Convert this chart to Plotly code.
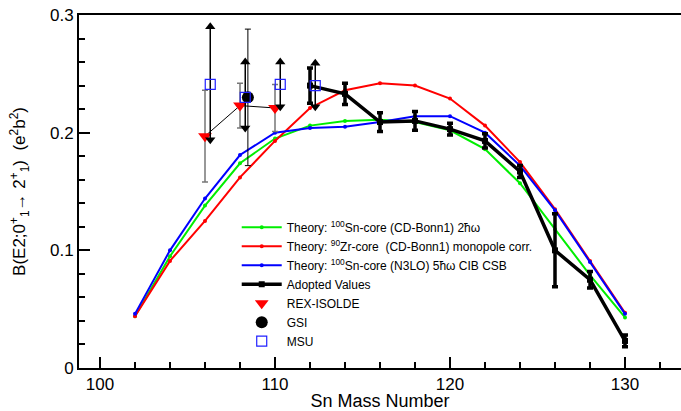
import plotly.graph_objects as go

A_theory = [102, 104, 106, 108, 110, 112, 114, 116, 118, 120, 122, 124, 126, 128, 130]
green_vals = [0.044, 0.095, 0.138, 0.174, 0.195, 0.206, 0.210, 0.211, 0.209, 0.202, 0.186, 0.157, 0.118, 0.079, 0.043]
red_vals = [0.044, 0.091, 0.125, 0.162, 0.193, 0.221, 0.236, 0.242, 0.240, 0.229, 0.206, 0.175, 0.135, 0.091, 0.047]
blue_vals = [0.046, 0.100, 0.144, 0.181, 0.200, 0.204, 0.205, 0.209, 0.214, 0.214, 0.200, 0.172, 0.134, 0.090, 0.046]

A_adopted = [112, 114, 116, 118, 120, 122, 124, 126, 128, 130]
adopted_vals = [0.240, 0.233, 0.209, 0.210, 0.203, 0.193, 0.167, 0.100, 0.075, 0.023]
adopted_err = [0.015, 0.009, 0.008, 0.008, 0.005, 0.006, 0.005, 0.031, 0.007, 0.005]

A_rex = [106.0, 108.0, 110.0]
rex_vals = [0.197, 0.223, 0.221]
rex_err = [0.039, 0.019, 0.020]

A_gsi = [108.45]
gsi_vals = [0.230]
gsi_err = [0.058]

A_msu = [106.3, 108.3, 110.3, 112.3]
msu_vals = [0.241, 0.230, 0.241, 0.240]
msu_err_up = [0.049, 0.030, 0.019, 0.019]
msu_err_dn = [0.047, 0.026, 0.019, 0.018]

FONT = "Liberation Sans, Arial, sans-serif"

fig = go.Figure()

fig.add_trace(go.Scatter(x=A_theory, y=green_vals, mode="lines+markers",
                         line=dict(color="#00ee00", width=2), marker=dict(size=4, color="#00ee00"),
                         name="Theory: <sup>100</sup>Sn-core (CD-Bonn1) 2ħω"))
fig.add_trace(go.Scatter(x=A_theory, y=red_vals, mode="lines+markers",
                         line=dict(color="#ff0000", width=2), marker=dict(size=4, color="#ff0000"),
                         name="Theory: <sup>90</sup>Zr-core  (CD-Bonn1) monopole corr."))
fig.add_trace(go.Scatter(x=A_theory, y=blue_vals, mode="lines+markers",
                         line=dict(color="#0000ff", width=2), marker=dict(size=4, color="#0000ff"),
                         name="Theory: <sup>100</sup>Sn-core (N3LO) 5ħω CIB CSB"))

fig.add_trace(go.Scatter(x=A_adopted, y=adopted_vals, mode="lines+markers",
                         line=dict(color="black", width=3.5), marker=dict(size=6, color="black", symbol="square"),
                         error_y=dict(type="data", array=adopted_err, color="black", thickness=3.5, width=3),
                         name="Adopted Values"))

# thin connecting line between REX-ISOLDE points
fig.add_trace(go.Scatter(x=A_rex, y=rex_vals, mode="lines", line=dict(color="black", width=1),
                         showlegend=False, hoverinfo="skip"))
fig.add_trace(go.Scatter(x=A_rex, y=rex_vals, mode="markers",
                         marker=dict(symbol="triangle-down", size=12, color="#ff0000"),
                         error_y=dict(type="data", array=rex_err, color="#777777", thickness=1.5, width=3),
                         name="REX-ISOLDE"))

fig.add_trace(go.Scatter(x=A_gsi, y=gsi_vals, mode="markers",
                         marker=dict(symbol="circle", size=12, color="black"),
                         error_y=dict(type="data", array=gsi_err, color="black", thickness=1, width=3),
                         name="GSI"))

# MSU error bars with arrow heads
msu_top = [v + e for v, e in zip(msu_vals, msu_err_up)]
msu_bot = [v - e for v, e in zip(msu_vals, msu_err_dn)]
fig.add_trace(go.Scatter(x=A_msu, y=msu_vals, mode="markers", marker=dict(size=1, color="rgba(0,0,0,0)"),
                         error_y=dict(type="data", symmetric=False, array=msu_err_up, arrayminus=msu_err_dn,
                                      color="black", thickness=1.5, width=0),
                         showlegend=False, hoverinfo="skip"))
fig.add_trace(go.Scatter(x=A_msu, y=msu_top, mode="markers",
                         marker=dict(symbol="triangle-up", size=9, color="black"),
                         showlegend=False, hoverinfo="skip"))
fig.add_trace(go.Scatter(x=A_msu, y=msu_bot, mode="markers",
                         marker=dict(symbol="triangle-down", size=9, color="black"),
                         showlegend=False, hoverinfo="skip"))
fig.add_trace(go.Scatter(x=A_msu, y=msu_vals, mode="markers",
                         marker=dict(symbol="square-open", size=10, color="#2020ff", line=dict(width=1.2)),
                         name="MSU"))

fig.update_layout(
    width=681, height=411,
    margin=dict(l=79, r=0, t=15, b=43),
    paper_bgcolor="white", plot_bgcolor="white",
    font=dict(family=FONT, color="black"),
    showlegend=True,
    legend=dict(x=0.262, y=0.44, xanchor="left", yanchor="top", bgcolor="rgba(0,0,0,0)",
                font=dict(size=12, family=FONT), tracegroupgap=0, itemwidth=40),
    xaxis=dict(range=[98.8, 133.2], dtick=10, tick0=100, ticks="inside", ticklen=11, tickwidth=1.5,
               tickcolor="black", showline=True, linecolor="black", linewidth=2, mirror=True,
               showgrid=False, zeroline=False, tickfont=dict(size=17),
               minor=dict(dtick=2, ticks="inside", ticklen=6, tickwidth=1.5, tickcolor="black"),
               title=dict(text="Sn Mass Number", font=dict(size=18), standoff=0)),
    yaxis=dict(range=[0, 0.3], dtick=0.1, ticks="inside", ticklen=11, tickwidth=1.5,
               tickcolor="black", showline=True, linecolor="black", linewidth=2,
               showgrid=False, zeroline=False, tickfont=dict(size=17),
               minor=dict(dtick=0.02, ticks="inside", ticklen=6, tickwidth=1.5, tickcolor="black"),
               title=dict(text="B(E2;0<sup>+</sup><sub>1</sub>→ 2<sup>+</sup><sub>1</sub>)  (e<sup>2</sup>b<sup>2</sup>)",
                          font=dict(size=17), standoff=20)),
)

fig.write_html("out.html")
